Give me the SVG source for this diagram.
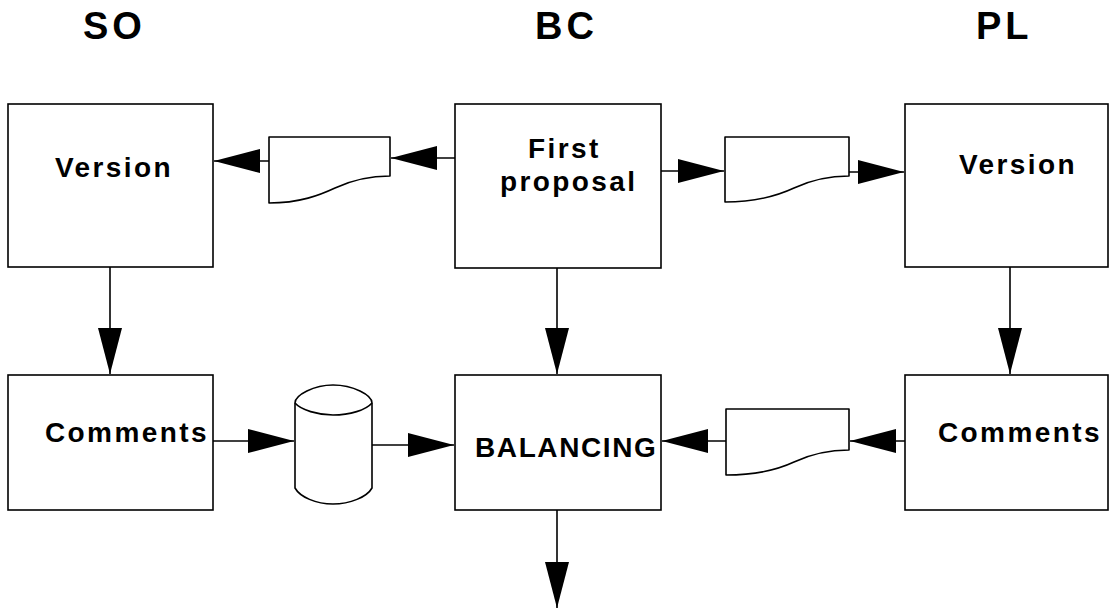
<svg xmlns="http://www.w3.org/2000/svg" width="1114" height="612" viewBox="0 0 1114 612">
  <style>
    .box { fill: #fff; stroke: #000; stroke-width: 1.6; }
    .shape { fill: #fff; stroke: #000; stroke-width: 1.6; stroke-linejoin: round; }
    .lbl { font-family: "Liberation Sans", Arial, sans-serif; font-weight: bold; font-size: 28px; letter-spacing: 2.4px; fill: #000; }
    .tight { letter-spacing: 1.6px; }
    .head { font-family: "Liberation Sans", Arial, sans-serif; font-weight: bold; font-size: 38px; letter-spacing: 4px; fill: #000; }
    .conn line { stroke: #000; stroke-width: 1.6; marker-end: url(#arrow); }
  </style>
  <defs>
    <marker id="arrow" markerUnits="userSpaceOnUse" markerWidth="46" markerHeight="24" refX="46" refY="12" orient="auto" overflow="visible">
      <path d="M0,0 L46,12 L0,24 Z" fill="#000"/>
    </marker>
  </defs>
  <rect width="1114" height="612" fill="#fff"/>

  <!-- column headings -->
  <g id="headings">
    <text class="head" x="83" y="39">SO</text>
    <text class="head" x="535" y="39">BC</text>
    <text class="head" x="976" y="39">PL</text>
  </g>

  <!-- top row -->
  <g id="so-version">
    <rect class="box" x="8" y="104" width="205" height="163"/>
    <text class="lbl" x="55" y="177">Version</text>
  </g>
  <g id="bc-first-proposal">
    <rect class="box" x="455" y="104" width="206" height="164"/>
    <text class="lbl" x="528" y="158">First</text>
    <text class="lbl" x="500" y="191">proposal</text>
  </g>
  <g id="pl-version">
    <rect class="box" x="905" y="104" width="203" height="163"/>
    <text class="lbl" x="959" y="174">Version</text>
  </g>

  <!-- documents passed between parties -->
  <g id="doc-to-so">
    <path class="shape" d="M269,137 L390,137 L390,176 C366,176 350,181 335,188 C320,195 300,203 269,203 Z"/>
  </g>
  <g id="doc-to-pl">
    <path class="shape" d="M725,137 L849,137 L849,176 C825,176 809,181 794,188 C779,195 757,202 725,202 Z"/>
  </g>
  <g id="doc-from-pl">
    <path class="shape" d="M726,409 L849,409 L849,450 C825,450 809,455 794,462 C779,469 757,475 726,475 Z"/>
  </g>

  <!-- bottom row -->
  <g id="so-comments">
    <rect class="box" x="8" y="375" width="205" height="135"/>
    <text class="lbl" x="45" y="442">Comments</text>
  </g>
  <g id="store">
    <path class="shape" d="M295,403 C295,395 314,385 333,385 C353,385 372,395 372,403 L372,488 C367,497 350,504 333,504 C316,504 300,497 295,488 Z"/>
    <path class="shape" fill="none" d="M295,403 C301,410 318,415 333,415 C350,415 366,410 372,403"/>
  </g>
  <g id="balancing">
    <rect class="box" x="455" y="375" width="206" height="135"/>
    <text class="lbl tight" x="475" y="457">BALANCING</text>
  </g>
  <g id="pl-comments">
    <rect class="box" x="905" y="375" width="203" height="135"/>
    <text class="lbl" x="938" y="442">Comments</text>
  </g>

  <!-- connectors -->
  <g id="connectors" class="conn">
    <line x1="455" y1="158" x2="391" y2="158"/>
    <line x1="269" y1="161" x2="214" y2="161"/>
    <line x1="661" y1="171" x2="724" y2="171"/>
    <line x1="849" y1="172" x2="904" y2="172"/>
    <line x1="110" y1="267" x2="110" y2="374"/>
    <line x1="557" y1="268" x2="557" y2="374"/>
    <line x1="1010" y1="267" x2="1010" y2="374"/>
    <line x1="213" y1="441" x2="294" y2="441"/>
    <line x1="372" y1="445" x2="454" y2="445"/>
    <line x1="905" y1="441" x2="850" y2="441"/>
    <line x1="726" y1="441" x2="662" y2="441"/>
    <line x1="557" y1="510" x2="557" y2="608"/>
  </g>
</svg>
